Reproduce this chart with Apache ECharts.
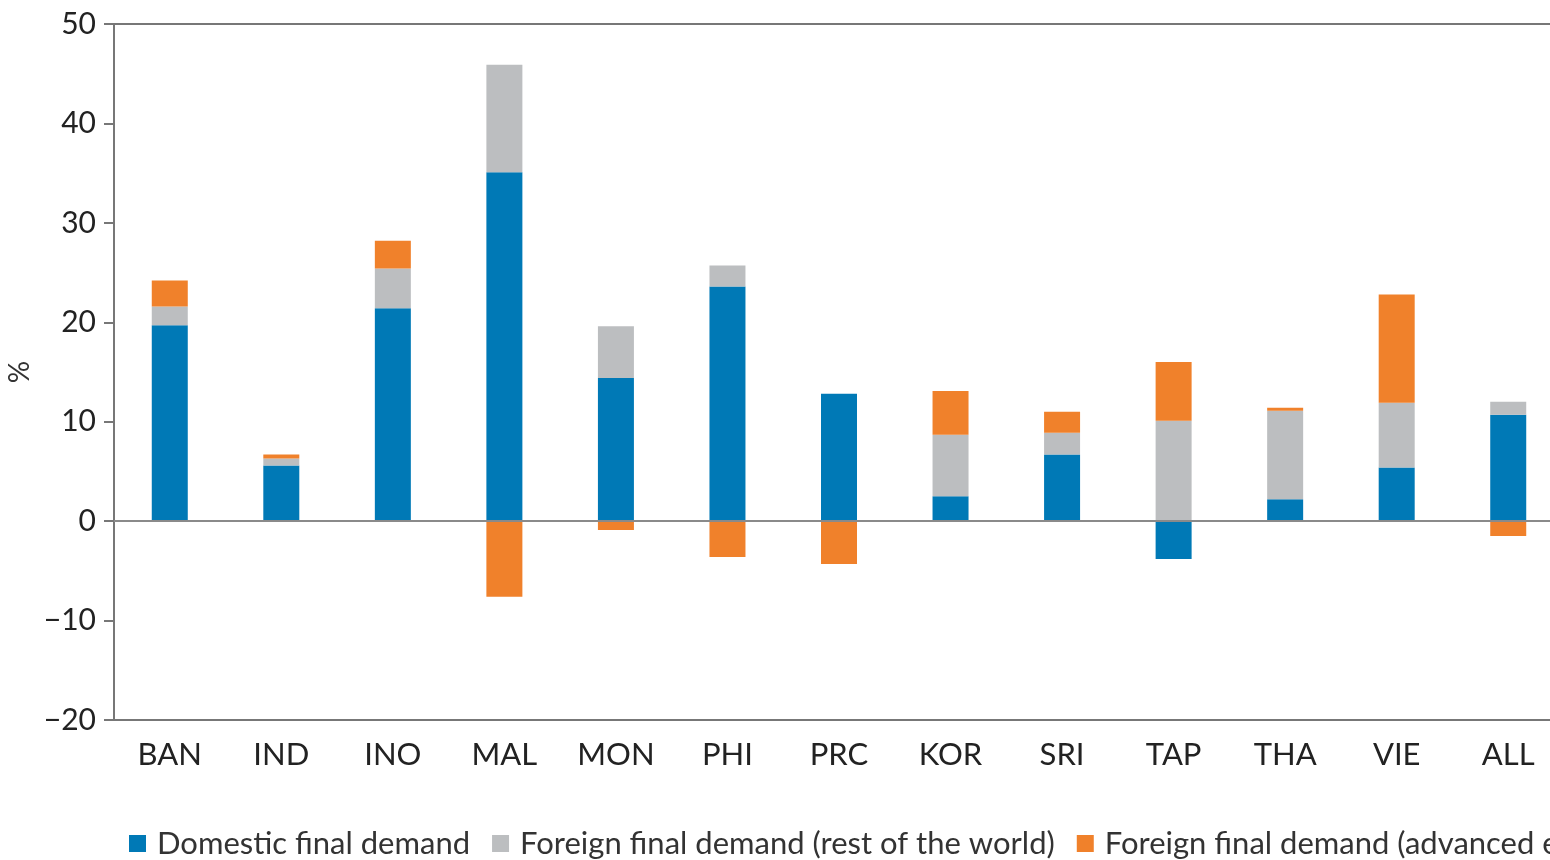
<!DOCTYPE html>
<html>
<head>
<meta charset="utf-8">
<script src="https://cdn.jsdelivr.net/npm/echarts@6/dist/echarts.min.js"></script>
<style>
  html, body { margin: 0; padding: 0; background: #fff; }
  #chart { width: 1550px; height: 860px; }
</style>
</head>
<body>
<div id="chart"></div>
<script>
// economies
var categories = ['BAN', 'IND', 'INO', 'MAL', 'MON', 'PHI', 'PRC', 'KOR', 'SRI', 'TAP', 'THA', 'VIE', 'ALL']
// contributions, %
var domesticDemand = [19.7, 5.6, 21.4, 35.1, 14.4, 23.6, 12.8, 2.5, 6.7, -3.8, 2.2, 5.4, 10.7]
var foreignRestOfWorld = [1.9, 0.7, 4.0, 10.8, 5.2, 2.1, 0, 6.2, 2.2, 10.1, 8.9, 6.5, 1.3]
var foreignAdvanced = [2.6, 0.4, 2.8, -7.6, -0.9, -3.6, -4.3, 4.4, 2.1, 5.9, 0.3, 10.9, -1.5]
var seriesNames = [
  'Domestic final demand',
  'Foreign final demand (rest of the world)',
  'Foreign final demand (advanced economies)'
]
var yTicks = { min: -20, max: 50, interval: 10 }

var fontFamily = 'Lato, "Open Sans", sans-serif'
var chart = echarts.init(document.getElementById('chart'))

function barSeries(name, data, color) {
  return {
    name: name,
    type: 'bar',
    stack: 'total',
    barWidth: 36,
    data: data,
    itemStyle: { color: color }
  }
}

var series = [
  barSeries(seriesNames[0], domesticDemand, '#0079B6'),
  barSeries(seriesNames[1], foreignRestOfWorld, '#BCBEC0'),
  barSeries(seriesNames[2], foreignAdvanced, '#F0812B')
]
// zero line over the bars
series[2].markLine = {
  silent: true,
  symbol: 'none',
  label: { show: false },
  lineStyle: { color: '#8a8a8a', width: 2, type: 'solid' },
  data: [{ yAxis: 0 }]
}

var options = {
  animation: false,
  grid: {
    left: 114,
    right: -14,
    top: 24,
    bottom: 140,
    outerBoundsMode: 'none',
    containLabel: false,
    show: true,
    borderColor: '#777',
    borderWidth: 2,
    backgroundColor: 'transparent'
  },
  legend: {
    left: 124,
    bottom: -4,
    width: 3000,
    itemWidth: 17,
    itemHeight: 17,
    itemGap: 22,
    icon: 'rect',
    textStyle: { fontFamily: fontFamily, fontSize: 31, color: '#333', padding: [0, 0, 0, 6] },
    data: seriesNames
  },
  xAxis: {
    type: 'category',
    data: categories,
    axisLine: { show: true, lineStyle: { color: '#666', width: 2 } },
    axisTick: { show: false },
    axisLabel: {
      color: '#222',
      fontFamily: fontFamily,
      fontSize: 31,
      margin: 19
    }
  },
  yAxis: {
    type: 'value',
    min: yTicks.min,
    max: yTicks.max,
    interval: yTicks.interval,
    name: '%',
    nameLocation: 'middle',
    nameRotate: 90,
    nameGap: 80,
    nameMoveOverlap: false,
    nameTextStyle: { fontFamily: fontFamily, fontSize: 28, color: '#333', padding: [16, 0, 0, 0] },
    axisLine: { show: true, lineStyle: { color: '#777', width: 2 } },
    axisTick: { show: true, length: 10, lineStyle: { color: '#777', width: 2 } },
    axisLabel: {
      color: '#222',
      fontFamily: fontFamily,
      fontSize: 30,
      margin: 18,
      formatter: function (v) { return v < 0 ? '\u2212' + Math.abs(v) : v }
    },
    splitLine: { show: false }
  },
  series: series
}

chart.setOption(options)
</script>
</body>
</html>
